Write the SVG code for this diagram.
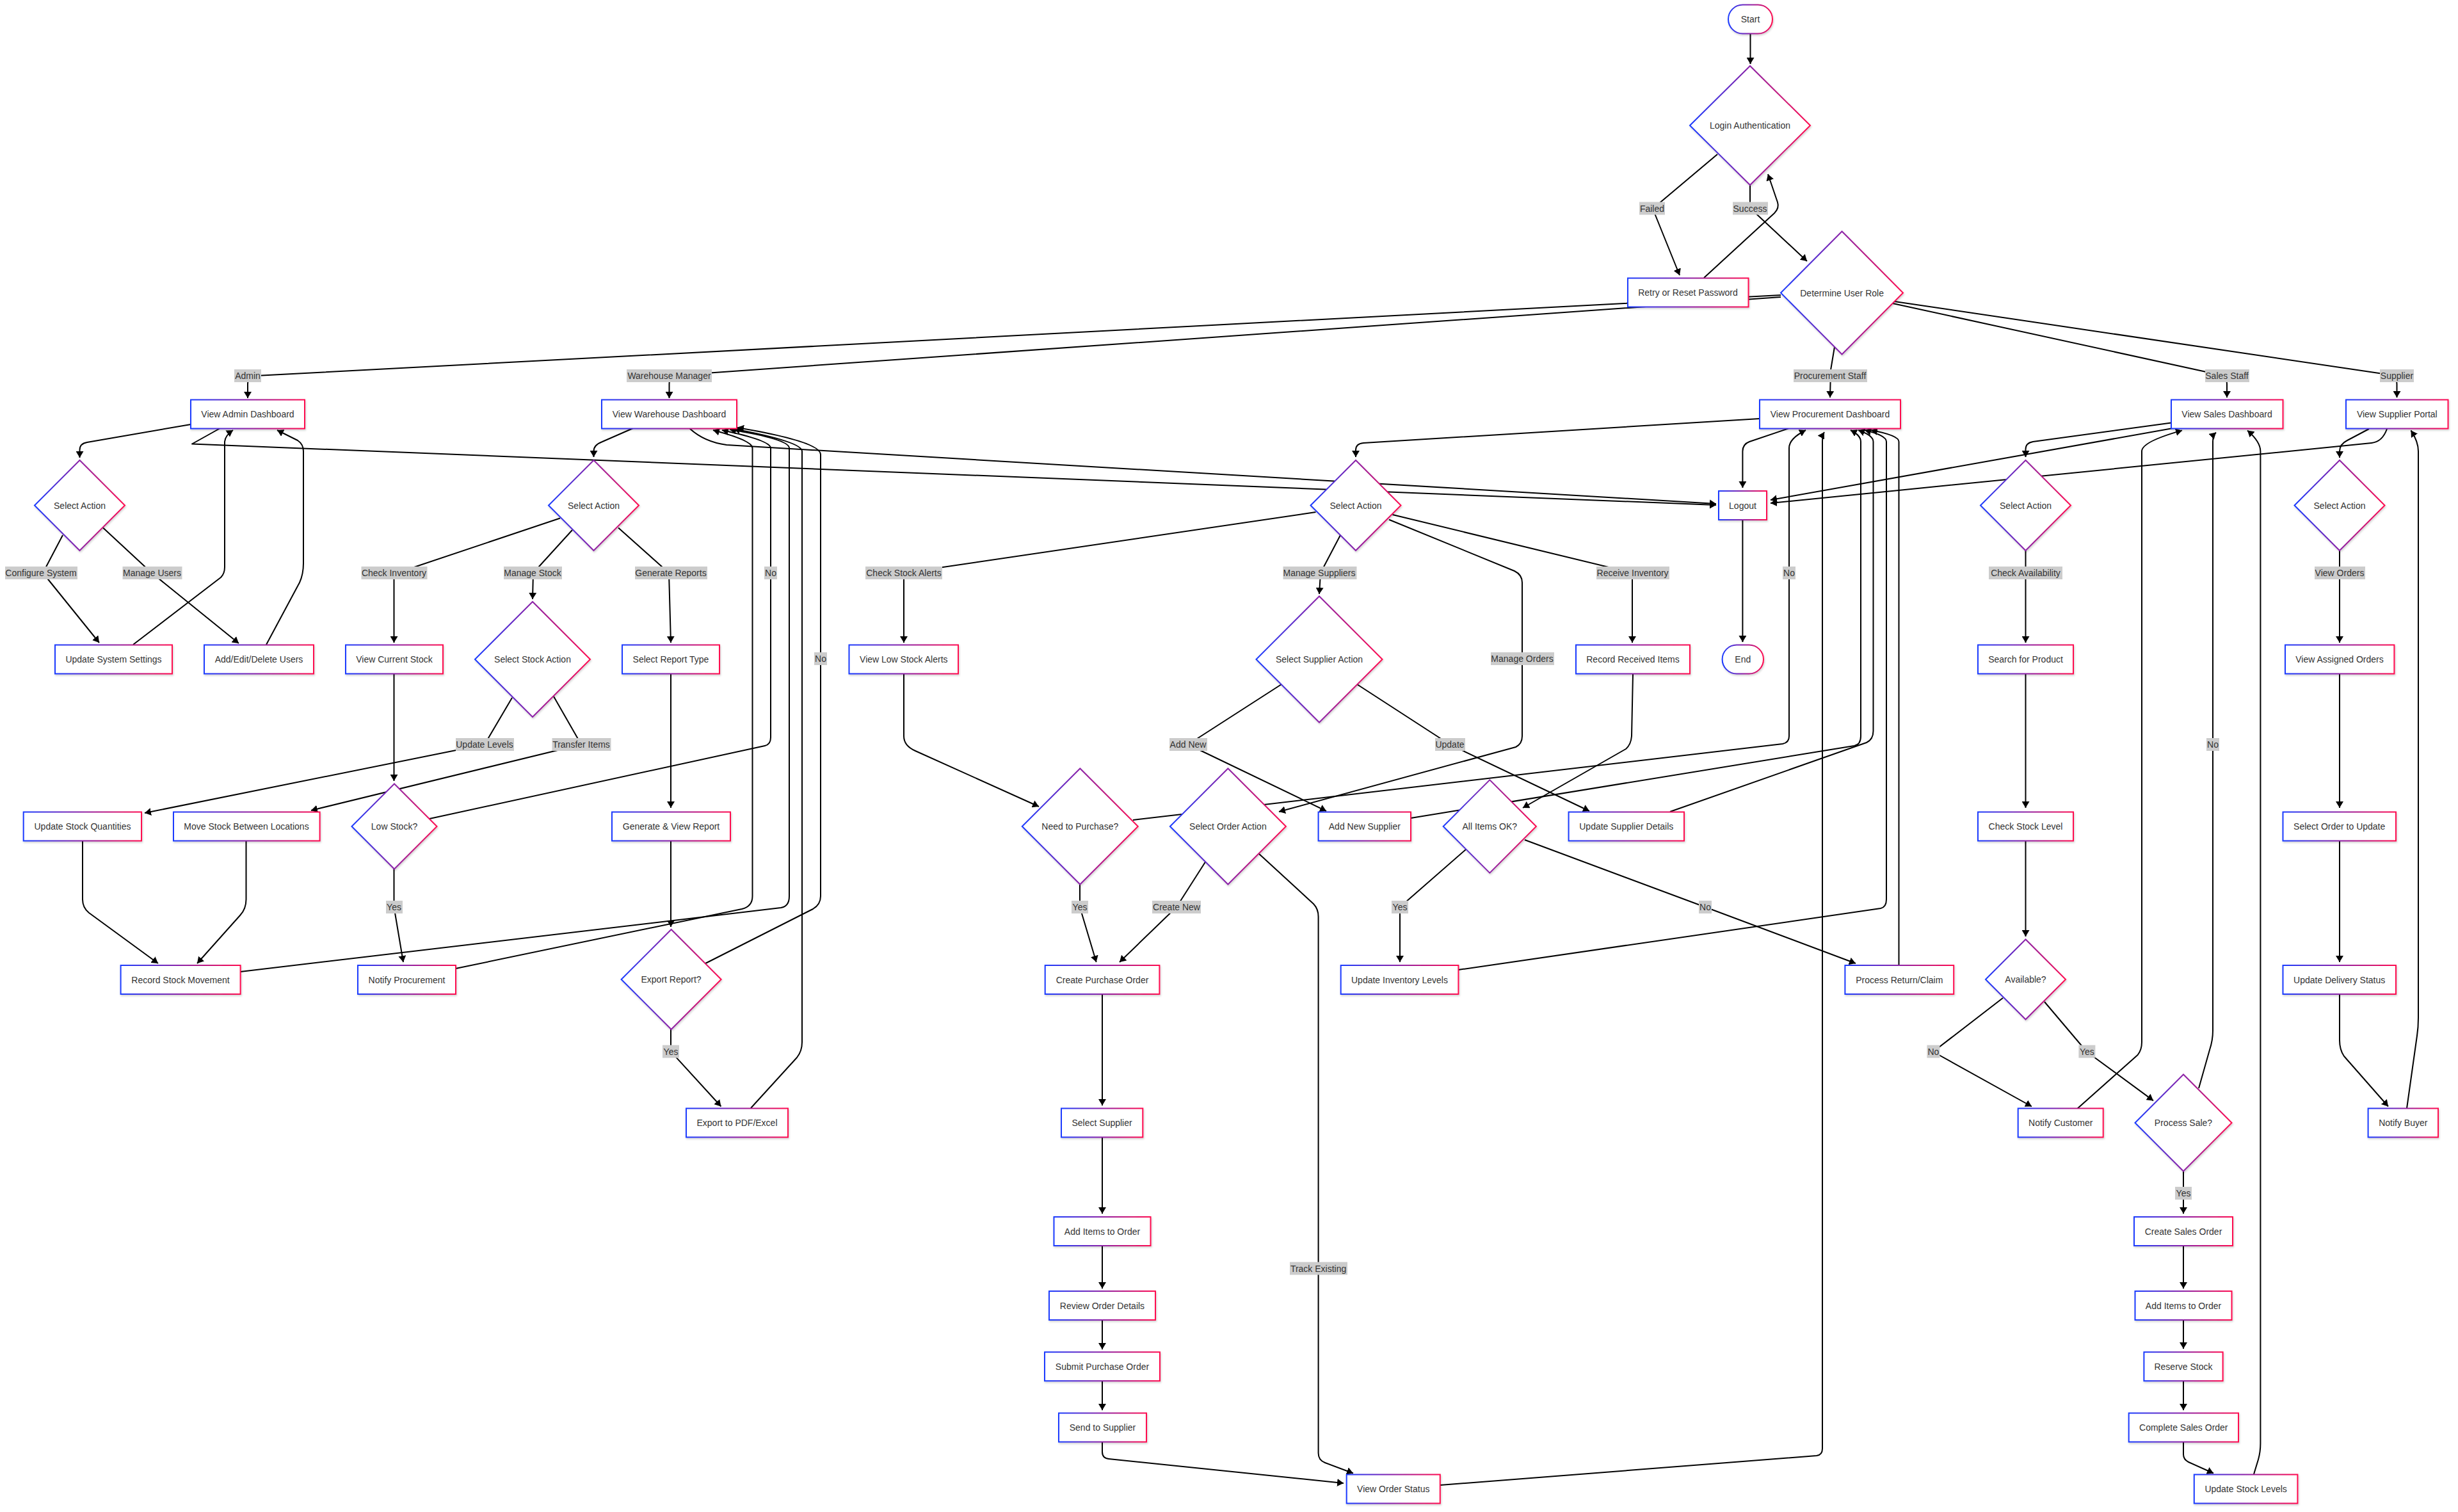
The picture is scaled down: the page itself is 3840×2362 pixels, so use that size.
<svg xmlns="http://www.w3.org/2000/svg" width="3840" height="2362" viewBox="0 0 3840 2362">
<defs>
<linearGradient id="g" x1="0" y1="0" x2="1" y2="0"><stop offset="0" stop-color="#1a3bff"/><stop offset="1" stop-color="#ff0a4f"/></linearGradient>
<filter id="sh" x="-10%" y="-10%" width="120%" height="130%"><feDropShadow dx="1" dy="2" stdDeviation="1.5" flood-color="#000" flood-opacity="0.18"/></filter>
<marker id="ah" markerUnits="userSpaceOnUse" markerWidth="10" markerHeight="12" viewBox="0 0 10 12" refX="10" refY="6" orient="auto"><path d="M0,0 L10,6 L0,12 z" fill="#000"/></marker>
</defs>
<style>
.n rect,.n polygon{fill:#fff;stroke:url(#g);stroke-width:2;filter:url(#sh)}
text{font-family:"Liberation Sans",Arial,sans-serif;font-size:14px;fill:#333;text-anchor:middle;dominant-baseline:central}
.e path{fill:none;stroke:#000;stroke-width:2;stroke-linejoin:round;marker-end:url(#ah)}
.l rect{fill:#ccc}
</style>
<rect width="3840" height="2362" fill="#fff"/>
<g class="e" id="connectors">
<path d="M2734.5,53 L2734.5,100"/>
<path d="M2683,241 L2582,326 L2624,430"/>
<path d="M2734,289 L2734,325 L2823,408"/>
<path d="M2662,434 L2772,333 Q2780,325 2777,316 L2762,272"/>
<path d="M2782,461 L400,587 Q387,588 387,600 L387,622"/>
<path d="M2782,464 L1060,586 Q1045.5,587 1045.5,600 L1045.5,622"/>
<path d="M2866,542 L2860,578 L2859,621"/>
<path d="M2957,474 L3465,585 Q3479,588 3479,600 L3479,621"/>
<path d="M2960,471 L3730,585 Q3744.5,588 3744.5,600 L3744.5,621"/>
<path d="M298,663 L136,691 Q124.5,693 124.5,703 L124.5,715"/>
<path d="M98,836 L67,895 L155,1004"/>
<path d="M161,824.5 L237,895 L373,1005"/>
<path d="M208,1007 L345,902 Q351,896 351,886 L351,690 Q352,680 364,672"/>
<path d="M416,1007 L468,910 Q474,897 474,880 L474,705 Q474,694 465,688 L433,672"/>
<path d="M343,669.5 L300,693.5 L2681,789"/>
<path d="M989,669 L941,690 Q927.5,695 927.5,705 L927.5,714"/>
<path d="M875,809.5 L620,895 L615.5,905 L615.5,1004"/>
<path d="M894,828 L833,895 L832,936"/>
<path d="M966,824.5 L1045,895 L1048,1004"/>
<path d="M615.5,1053 L615.5,1220"/>
<path d="M615.5,1357 L615.5,1417 L630,1503"/>
<path d="M671,1279 L1195,1165 Q1204,1163 1204,1152 L1204,700 Q1204,688 1128,672"/>
<path d="M800,1090 L757,1163 L226,1270"/>
<path d="M865,1088 L908,1163 L486,1266"/>
<path d="M129,1313.5 L129,1405 Q129,1418 139,1426 L247,1505"/>
<path d="M384.5,1313.5 L384.5,1405 Q384.5,1420 375,1430 L308,1505"/>
<path d="M375.5,1518 L1220,1418 Q1233,1416 1233,1400 L1233,700 Q1233,686 1140,671"/>
<path d="M712,1513 L1159,1420 Q1175.5,1416 1175.5,1400 L1175.5,700 Q1175.5,688 1114,672"/>
<path d="M1048,1053 L1048,1262"/>
<path d="M1048,1313.5 L1048,1448"/>
<path d="M1048,1607 L1048,1642.6 L1126.5,1728.5"/>
<path d="M1102,1505 L1270,1420 Q1282,1413 1282,1400 L1282,710 Q1282,690 1152,668"/>
<path d="M1173,1731 L1245,1652 Q1253,1642 1253,1628 L1253,705 Q1253,690 1146,670"/>
<path d="M1077.6,669.4 Q1100,690 1135,695 L2681,787"/>
<path d="M2749,654 L2130,692 Q2118,693 2118,703 L2118,714"/>
<path d="M2055.5,800 L1412,895 L1412,1004"/>
<path d="M2094,836 L2063,895 L2061,928"/>
<path d="M2170,811.7 L2366,892 Q2378,898 2378,910 L2378,1150 Q2378,1162 2368,1167 L1998,1268"/>
<path d="M2175.5,804 L2550,895 L2550,1004"/>
<path d="M1412,1053 L1412,1150 Q1412,1165 1430,1173 L1623,1260"/>
<path d="M1687,1381 L1687,1417 L1712.7,1503"/>
<path d="M1770,1281 L2785,1162 Q2795,1160 2795,1150 L2795,700 Q2795,685 2821,672"/>
<path d="M2002,1069 L1856,1163 L2072,1267"/>
<path d="M2120,1069 L2265,1163 L2483,1267"/>
<path d="M2204,1278 L2897,1165 Q2907,1163 2907,1150 L2907,690 Q2907,680 2891,672"/>
<path d="M2609,1268 L2916,1160 Q2926.5,1155 2926.5,1142 L2926.5,690 Q2926.5,680 2903,672"/>
<path d="M1884,1345 L1838,1417 L1749,1503"/>
<path d="M1966,1333 L2052,1412 Q2059.6,1420 2059.6,1432 L2059.6,2270 Q2059.6,2281 2070,2285 L2114,2301.5"/>
<path d="M1722,1553 L1722,1727"/>
<path d="M1722,1777 L1722,1896"/>
<path d="M1722,1946 L1722,2013"/>
<path d="M1722,2062 L1722,2108"/>
<path d="M1722,2158 L1722,2203"/>
<path d="M1722,2253 L1722,2268 Q1722,2278 1732,2279 L2099,2317"/>
<path d="M2250,2320 L2838,2274 Q2847,2273 2847,2263 L2847,690 Q2847,680 2850,675"/>
<path d="M2551,1053 L2549,1150 Q2548,1163 2540,1170 L2379,1262"/>
<path d="M2290,1327 L2187,1417 L2187,1503"/>
<path d="M2382,1312 L2664,1417 L2899,1505"/>
<path d="M2278.4,1515 L2938,1419 Q2947,1417 2947,1405 L2947,690 Q2947,680 2913,672"/>
<path d="M2966.5,1508 L2966.5,690 Q2966.5,680 2923,672"/>
<path d="M2794,669.4 L2733,690 Q2722.4,694 2722.4,705 L2722.4,762"/>
<path d="M2722.4,812.5 L2722.4,1003"/>
<path d="M3392,660.4 L3176,690 Q3164.5,692 3164.5,702 L3164.5,714"/>
<path d="M3164.5,860 L3164.5,1004"/>
<path d="M3164.5,1053 L3164.5,1262"/>
<path d="M3164.5,1313.5 L3164.5,1463"/>
<path d="M3129,1559 L3020,1643 L3174,1728.5"/>
<path d="M3194,1565 L3260,1643 L3364,1719.4"/>
<path d="M3245.7,1731.5 L3339.6,1648 Q3346,1640 3346,1628 L3346,705 Q3346,690 3409,672.4"/>
<path d="M3435,1700 L3452,1640 Q3457,1625 3457,1610 L3457,690 Q3457,680 3462,675.5"/>
<path d="M3411,1829 L3411,1896"/>
<path d="M3411,1946 L3411,2013"/>
<path d="M3411,2062 L3411,2107"/>
<path d="M3411,2158 L3411,2203"/>
<path d="M3411,2253 L3411,2272 Q3411,2280 3419,2284 L3458,2301.5"/>
<path d="M3521,2303 L3528,2280 Q3531.4,2268 3531.4,2255 L3531.4,705 Q3531.4,690 3511,672.4"/>
<path d="M3400,668 L2766,781"/>
<path d="M3701,670 L3667,688 Q3655,694 3655,705 L3655,715"/>
<path d="M3655,860 L3655,1004"/>
<path d="M3655,1053 L3655,1262"/>
<path d="M3655,1313.5 L3655,1503"/>
<path d="M3655,1553 L3655,1625 Q3655,1640 3662,1650 L3731,1728.5"/>
<path d="M3760,1731.5 L3776,1618 Q3778,1605 3778,1590 L3778,705 Q3778,690 3766.5,672.4"/>
<path d="M3729,670 Q3722,690 3705,692 L2766,786"/>
</g>
<g class="l" id="edge-labels">
<rect x="2561" y="315.5" width="40" height="20"/><text x="2581" y="325.5">Failed</text>
<rect x="2707" y="315.5" width="55" height="20"/><text x="2734" y="325.5">Success</text>
<rect x="366" y="577" width="42" height="20"/><text x="387" y="587">Admin</text>
<rect x="979" y="577" width="133" height="20"/><text x="1045.5" y="587">Warehouse Manager</text>
<rect x="2802" y="577" width="115" height="20"/><text x="2859" y="587">Procurement Staff</text>
<rect x="3445" y="577" width="69" height="20"/><text x="3479" y="587">Sales Staff</text>
<rect x="3718" y="577" width="53" height="20"/><text x="3744.5" y="587">Supplier</text>
<rect x="8" y="885" width="113" height="20"/><text x="64" y="895">Configure System</text>
<rect x="191.5" y="885" width="93" height="20"/><text x="237.5" y="895">Manage Users</text>
<rect x="564.5" y="885" width="103" height="20"/><text x="615.5" y="895">Check Inventory</text>
<rect x="787" y="885" width="91" height="20"/><text x="832" y="895">Manage Stock</text>
<rect x="992" y="885" width="113" height="20"/><text x="1048" y="895">Generate Reports</text>
<rect x="1194" y="885" width="20" height="20"/><text x="1204" y="895">No</text>
<rect x="1352" y="885" width="120" height="20"/><text x="1412" y="895">Check Stock Alerts</text>
<rect x="2004.5" y="885" width="115" height="20"/><text x="2061" y="895">Manage Suppliers</text>
<rect x="2494" y="885" width="114" height="20"/><text x="2550.6" y="895">Receive Inventory</text>
<rect x="2785" y="885" width="20" height="20"/><text x="2795" y="895">No</text>
<rect x="3107" y="885" width="115" height="20"/><text x="3164.5" y="895">Check Availability</text>
<rect x="3616" y="885" width="79" height="20"/><text x="3655" y="895">View Orders</text>
<rect x="2329" y="1019" width="99" height="20"/><text x="2378" y="1029">Manage Orders</text>
<rect x="1272" y="1019" width="20" height="20"/><text x="1282" y="1029">No</text>
<rect x="712" y="1153" width="91" height="20"/><text x="757" y="1163">Update Levels</text>
<rect x="862.5" y="1153" width="92" height="20"/><text x="908" y="1163">Transfer Items</text>
<rect x="1827" y="1153" width="59" height="20"/><text x="1856" y="1163">Add New</text>
<rect x="2242" y="1153" width="47" height="20"/><text x="2265" y="1163">Update</text>
<rect x="3447" y="1153" width="20" height="20"/><text x="3457" y="1163">No</text>
<rect x="603" y="1407" width="26" height="20"/><text x="615.5" y="1417">Yes</text>
<rect x="1674" y="1407" width="26" height="20"/><text x="1687" y="1417">Yes</text>
<rect x="1800" y="1407" width="76" height="20"/><text x="1838" y="1417">Create New</text>
<rect x="2174" y="1407" width="26" height="20"/><text x="2187" y="1417">Yes</text>
<rect x="2654" y="1407" width="20" height="20"/><text x="2664" y="1417">No</text>
<rect x="1035" y="1632.6" width="26" height="20"/><text x="1048" y="1642.6">Yes</text>
<rect x="3010.4" y="1632.6" width="20" height="20"/><text x="3020.4" y="1642.6">No</text>
<rect x="3247.4" y="1632.6" width="26" height="20"/><text x="3260.4" y="1642.6">Yes</text>
<rect x="3398" y="1854" width="26" height="20"/><text x="3411" y="1864">Yes</text>
<rect x="2015" y="1971.5" width="90" height="20"/><text x="2059.6" y="1981.5">Track Existing</text>
</g>
<g class="n" id="start"><rect x="2700" y="7.5" width="69" height="45" rx="22.5"/><text x="2734.5" y="30">Start</text></g>
<g class="n" id="login"><polygon points="2640,196 2734,103 2828,196 2734,289"/><text x="2734" y="196">Login Authentication</text></g>
<g class="n" id="retry"><rect x="2543" y="434.5" width="188.5" height="45"/><text x="2637" y="457">Retry or Reset Password</text></g>
<g class="n" id="determine"><polygon points="2782,457.5 2877.6,361.5 2973,457.5 2877.6,553.5"/><text x="2877.6" y="457.5">Determine User Role</text></g>
<g class="n" id="adminDash"><rect x="298" y="624.5" width="178" height="45"/><text x="387" y="647">View Admin Dashboard</text></g>
<g class="n" id="whDash"><rect x="940" y="624.5" width="211" height="45"/><text x="1045.5" y="647">View Warehouse Dashboard</text></g>
<g class="n" id="procDash"><rect x="2749" y="624.5" width="220" height="45"/><text x="2859" y="647">View Procurement Dashboard</text></g>
<g class="n" id="salesDash"><rect x="3392" y="624.5" width="174.5" height="45"/><text x="3479" y="647">View Sales Dashboard</text></g>
<g class="n" id="supplierPortal"><rect x="3665" y="624.5" width="159.5" height="45"/><text x="3744.8" y="647">View Supplier Portal</text></g>
<g class="n" id="adminSelect"><polygon points="54,789.5 124.5,719 195,789.5 124.5,860"/><text x="124.5" y="789.5">Select Action</text></g>
<g class="n" id="whSelect"><polygon points="857,789.5 927.5,719 998,789.5 927.5,860"/><text x="927.5" y="789.5">Select Action</text></g>
<g class="n" id="procSelect"><polygon points="2047.5,789.5 2118,719 2188.5,789.5 2118,860"/><text x="2118" y="789.5">Select Action</text></g>
<g class="n" id="salesSelect"><polygon points="3094,789.5 3164.5,719 3235,789.5 3164.5,860"/><text x="3164.5" y="789.5">Select Action</text></g>
<g class="n" id="supplierSelect"><polygon points="3584.5,789.5 3655,719 3725.5,789.5 3655,860"/><text x="3655" y="789.5">Select Action</text></g>
<g class="n" id="logout"><rect x="2685" y="767" width="75" height="45"/><text x="2722.5" y="789.5">Logout</text></g>
<g class="n" id="updateSys"><rect x="86" y="1007.5" width="183" height="45"/><text x="177.5" y="1030">Update System Settings</text></g>
<g class="n" id="addEditUsers"><rect x="319" y="1007.5" width="171" height="45"/><text x="404.5" y="1030">Add/Edit/Delete Users</text></g>
<g class="n" id="viewCurrentStock"><rect x="540" y="1007.5" width="152" height="45"/><text x="616" y="1030">View Current Stock</text></g>
<g class="n" id="selectStockAction"><polygon points="742,1030 832,940 922,1030 832,1120"/><text x="832" y="1030">Select Stock Action</text></g>
<g class="n" id="selectReportType"><rect x="972" y="1007.5" width="152" height="45"/><text x="1048" y="1030">Select Report Type</text></g>
<g class="n" id="viewLowStockAlerts"><rect x="1326.5" y="1007.5" width="170.5" height="45"/><text x="1411.8" y="1030">View Low Stock Alerts</text></g>
<g class="n" id="selectSupplierAction"><polygon points="1962.5,1030 2061,931.5 2159.5,1030 2061,1128.5"/><text x="2061" y="1030">Select Supplier Action</text></g>
<g class="n" id="recordReceived"><rect x="2462" y="1007.5" width="178" height="45"/><text x="2551" y="1030">Record Received Items</text></g>
<g class="n" id="end"><rect x="2690.6" y="1007.5" width="64.4" height="45" rx="22.5"/><text x="2722.8" y="1030">End</text></g>
<g class="n" id="searchProduct"><rect x="3090" y="1007.5" width="149" height="45"/><text x="3164.5" y="1030">Search for Product</text></g>
<g class="n" id="viewAssignedOrders"><rect x="3570" y="1007.5" width="170.4" height="45"/><text x="3655" y="1030">View Assigned Orders</text></g>
<g class="n" id="updateStockQty"><rect x="36.7" y="1268.5" width="184.3" height="45"/><text x="129" y="1291">Update Stock Quantities</text></g>
<g class="n" id="moveStock"><rect x="271" y="1268.5" width="228.6" height="45"/><text x="385" y="1291">Move Stock Between Locations</text></g>
<g class="n" id="lowStock"><polygon points="549.5,1291 616,1224.5 682.5,1291 616,1357.5"/><text x="616" y="1291">Low Stock?</text></g>
<g class="n" id="genViewReport"><rect x="956" y="1268.5" width="185" height="45"/><text x="1048.5" y="1291">Generate &amp; View Report</text></g>
<g class="n" id="needToPurchase"><polygon points="1596.8,1291 1687.3,1200.5 1777.8,1291 1687.3,1381.5"/><text x="1687.3" y="1291">Need to Purchase?</text></g>
<g class="n" id="selectOrderAction"><polygon points="1827.9,1291 1918.4,1200.5 2008.9,1291 1918.4,1381.5"/><text x="1918.4" y="1291">Select Order Action</text></g>
<g class="n" id="addNewSupplier"><rect x="2059.6" y="1268.5" width="144.4" height="45"/><text x="2131.8" y="1291">Add New Supplier</text></g>
<g class="n" id="allItemsOK"><polygon points="2254.7,1291 2327.3,1218.4 2399.9,1291 2327.3,1363.6"/><text x="2327.3" y="1291">All Items OK?</text></g>
<g class="n" id="updateSupplierDetails"><rect x="2450.6" y="1268.5" width="180.4" height="45"/><text x="2540.8" y="1291">Update Supplier Details</text></g>
<g class="n" id="checkStockLevel"><rect x="3090" y="1268.5" width="149" height="45"/><text x="3164.5" y="1291">Check Stock Level</text></g>
<g class="n" id="selectOrderToUpdate"><rect x="3566.5" y="1268.5" width="176.5" height="45"/><text x="3654.7" y="1291">Select Order to Update</text></g>
<g class="n" id="recordStockMovement"><rect x="188.6" y="1508" width="187" height="45"/><text x="282" y="1530.5">Record Stock Movement</text></g>
<g class="n" id="notifyProcurement"><rect x="559" y="1508" width="153" height="45"/><text x="635.5" y="1530.5">Notify Procurement</text></g>
<g class="n" id="exportReport"><polygon points="970.6,1530 1048.6,1452 1126.6,1530 1048.6,1608"/><text x="1048.6" y="1530">Export Report?</text></g>
<g class="n" id="createPO"><rect x="1632.7" y="1508" width="178.7" height="45"/><text x="1722" y="1530.5">Create Purchase Order</text></g>
<g class="n" id="updateInventoryLevels"><rect x="2094.7" y="1508" width="183.7" height="45"/><text x="2186.5" y="1530.5">Update Inventory Levels</text></g>
<g class="n" id="processReturn"><rect x="2882.4" y="1508" width="169.8" height="45"/><text x="2967.3" y="1530.5">Process Return/Claim</text></g>
<g class="n" id="available"><polygon points="3102,1530 3164.5,1467.5 3227,1530 3164.5,1592.5"/><text x="3164.5" y="1530">Available?</text></g>
<g class="n" id="updateDeliveryStatus"><rect x="3566.5" y="1508" width="176.5" height="45"/><text x="3654.7" y="1530.5">Update Delivery Status</text></g>
<g class="n" id="exportPDF"><rect x="1072" y="1731.5" width="159" height="45"/><text x="1151.5" y="1754">Export to PDF/Excel</text></g>
<g class="n" id="selectSupplier"><rect x="1658" y="1731.5" width="127.3" height="45"/><text x="1721.6" y="1754">Select Supplier</text></g>
<g class="n" id="notifyCustomer"><rect x="3152.7" y="1731.5" width="133" height="45"/><text x="3219.2" y="1754">Notify Customer</text></g>
<g class="n" id="processSale"><polygon points="3335.5,1754 3411,1678.5 3486.5,1754 3411,1829.5"/><text x="3411" y="1754">Process Sale?</text></g>
<g class="n" id="notifyBuyer"><rect x="3699.6" y="1731.5" width="109.4" height="45"/><text x="3754.3" y="1754">Notify Buyer</text></g>
<g class="n" id="addItemsPO"><rect x="1646.5" y="1901" width="151" height="45"/><text x="1722" y="1923.5">Add Items to Order</text></g>
<g class="n" id="createSalesOrder"><rect x="3334" y="1901" width="154" height="45"/><text x="3411" y="1923.5">Create Sales Order</text></g>
<g class="n" id="reviewOrder"><rect x="1639" y="2017" width="166" height="45"/><text x="1722" y="2039.5">Review Order Details</text></g>
<g class="n" id="addItemsSales"><rect x="3335.5" y="2017" width="151" height="45"/><text x="3411" y="2039.5">Add Items to Order</text></g>
<g class="n" id="submitPO"><rect x="1632" y="2112.2" width="180" height="45"/><text x="1722" y="2134.7">Submit Purchase Order</text></g>
<g class="n" id="reserveStock"><rect x="3349.4" y="2112.2" width="123.2" height="45"/><text x="3411" y="2134.7">Reserve Stock</text></g>
<g class="n" id="sendToSupplier"><rect x="1654" y="2207.5" width="137" height="45"/><text x="1722.5" y="2230">Send to Supplier</text></g>
<g class="n" id="completeSalesOrder"><rect x="3325.7" y="2207.5" width="171.3" height="45"/><text x="3411.3" y="2230">Complete Sales Order</text></g>
<g class="n" id="viewOrderStatus"><rect x="2103.7" y="2303.5" width="146.1" height="45"/><text x="2176.8" y="2326">View Order Status</text></g>
<g class="n" id="updateStockLevels"><rect x="3427.8" y="2303.5" width="161.6" height="45"/><text x="3508.6" y="2326">Update Stock Levels</text></g>
</svg>
